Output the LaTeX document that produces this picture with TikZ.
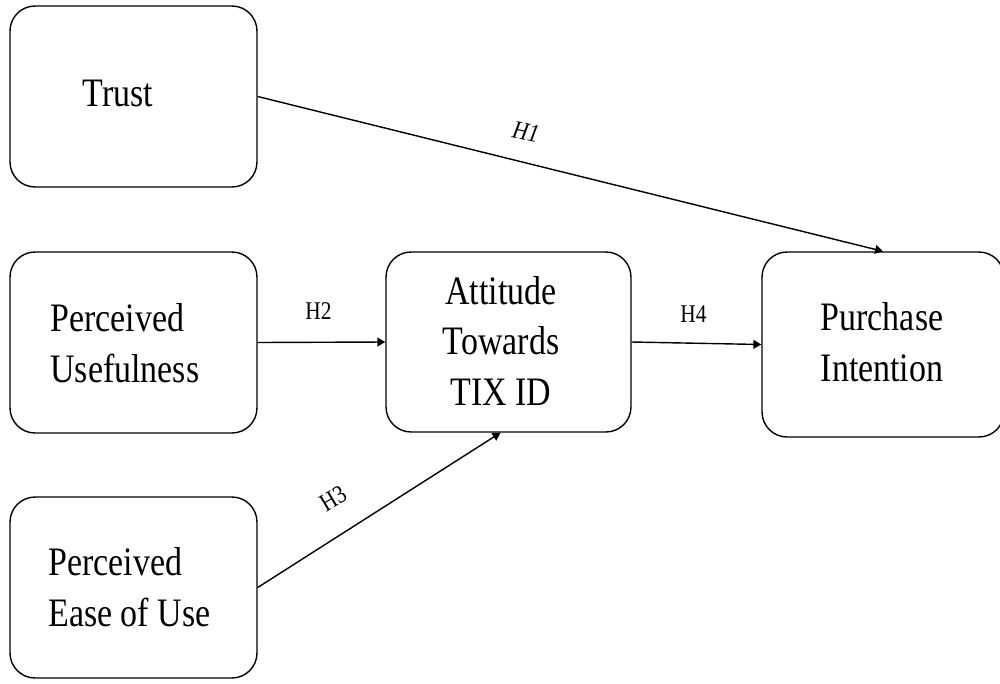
\documentclass[tikz,border=0pt]{standalone}
\usepackage{fontspec}
\setmainfont{Liberation Serif}
\newfontfamily\narrowserif[FakeStretch=0.84]{Liberation Serif}
\usepackage{tikz}
\usetikzlibrary{arrows.meta}

\begin{document}
\begin{tikzpicture}[x=0.02cm, y=-0.02cm,
        box/.style={draw, line width=0.8pt, rounded corners=0.5cm, minimum width=4.94cm, minimum height=3.62cm},
        varname/.style={font=\narrowserif\fontsize{23}{29}\selectfont, inner sep=0pt},
        hyp/.style={font=\narrowserif\fontsize{14.5}{17}\selectfont, inner sep=0pt},
        link/.style={-{Triangle[length=4.5pt, width=5pt]}, line width=0.8pt}]
        \clip (0, 0) rectangle (1000, 683);

        % boxes
        \node [box] (trust) at (133.5, 96.5) {};
        \node [box] (useful) at (133.5, 342.5) {};
        \node [box] (ease) at (133.5, 587.5) {};
        \node [box, minimum width=4.9cm, minimum height=3.6cm] (attitude) at (508.5, 342) {};
        \node [box, minimum width=4.84cm, minimum height=3.7cm] (purchase) at (883, 344.5) {};

        % texts
        \node [varname] (trusttext) at (118, 93.5) {Trust};
        \node [varname, anchor=west, align=left] (usefultext) at (50, 343) {Perceived\\Usefulness};
        \node [varname, anchor=west, align=left] (easetext) at (48, 587) {Perceived\\Ease of Use};
        \node [varname, align=center] (attitudetext) at (501, 341) {Attitude\\Towards\\TIX ID};
        \node [varname, align=center] (purchasetext) at (882, 342) {Purchase\\Intention};

        % hypotheses
        \draw [link] (trust.east) -- (purchase.north);
        \draw [link] (useful.east) -- (attitude.west);
        \draw [link] (ease.east) -- ([xshift=-0.16cm]attitude.south);
        \draw [link] (attitude.east) -- (purchase.west);

        \node [hyp, rotate=-12] (h1) at (526, 132) {\itshape H1};
        \node [hyp] (h2) at (318.5, 311) {H2};
        \node [hyp, rotate=31] (h3) at (333, 499) {H3};
        \node [hyp] (h4) at (693.5, 314) {H4};
    \end{tikzpicture}
\end{document}
